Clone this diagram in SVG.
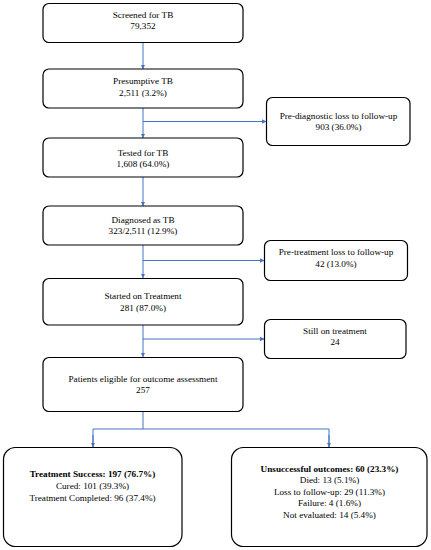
<svg xmlns="http://www.w3.org/2000/svg" width="431" height="550" viewBox="0 0 431 550">
<defs>
<style>
.box{fill:#fff;stroke:#000;stroke-width:1.2}
.t{font-family:"Liberation Serif","Times New Roman",serif;font-size:9.2px;fill:#000;text-anchor:middle}
.b{font-weight:bold}
.c{fill:none;stroke:#4472C4;stroke-width:1}
</style>
<marker id="ah" viewBox="0 0 10 10" refX="10" refY="5" markerWidth="4.5" markerHeight="4.5" markerUnits="userSpaceOnUse" orient="auto">
<path d="M0,0 L10,5 L0,10 z" fill="#4472C4"/>
</marker>
</defs>
<rect width="431" height="550" fill="#fff"/>
<g id="connectors">
<path class="c" d="M143,42 V69" marker-end="url(#ah)"/>
<path class="c" d="M143,108 V138" marker-end="url(#ah)"/>
<path class="c" d="M143,121.5 H266.5" marker-end="url(#ah)"/>
<path class="c" d="M143,177 V206" marker-end="url(#ah)"/>
<path class="c" d="M143,245 V278" marker-end="url(#ah)"/>
<path class="c" d="M143,260.5 H264.5" marker-end="url(#ah)"/>
<path class="c" d="M143,325 V357" marker-end="url(#ah)"/>
<path class="c" d="M143,339 H264.5" marker-end="url(#ah)"/>
<path class="c" d="M143,412 V429"/>
<path class="c" d="M93,447 V429 H329 V447" />
<path class="c" d="M93,435 V447" marker-end="url(#ah)"/>
<path class="c" d="M329,435 V447" marker-end="url(#ah)"/>
</g>
<g id="screened">
<rect class="box" x="43" y="3.5" width="200" height="39" rx="6"/>
<text class="t" x="143" y="18.3">Screened for TB</text>
<text class="t" x="143" y="29.3">79,352</text>
</g>
<g id="presumptive">
<rect class="box" x="43" y="69" width="200" height="39" rx="6"/>
<text class="t" x="143" y="84">Presumptive TB</text>
<text class="t" x="143" y="95.7">2,511 (3.2%)</text>
</g>
<g id="prediagnostic">
<rect class="box" x="266.5" y="97.5" width="143.5" height="48" rx="6"/>
<text class="t" x="338.5" y="119">Pre-diagnostic loss to follow-up</text>
<text class="t" x="338.5" y="130">903 (36.0%)</text>
</g>
<g id="tested">
<rect class="box" x="43" y="138" width="200" height="39" rx="6"/>
<text class="t" x="143" y="155.7">Tested for TB</text>
<text class="t" x="143" y="166.7">1,608 (64.0%)</text>
</g>
<g id="diagnosed">
<rect class="box" x="43" y="206" width="200" height="39" rx="6"/>
<text class="t" x="143" y="222.7">Diagnosed as TB</text>
<text class="t" x="143" y="234">323/2,511 (12.9%)</text>
</g>
<g id="pretreatment">
<rect class="box" x="264.5" y="240.5" width="143" height="40" rx="6"/>
<text class="t" x="336" y="255.3">Pre-treatment loss to follow-up</text>
<text class="t" x="336" y="266.7">42 (13.0%)</text>
</g>
<g id="started">
<rect class="box" x="43" y="278.5" width="200" height="46.5" rx="6"/>
<text class="t" x="143" y="299.3">Started on Treatment</text>
<text class="t" x="143" y="310.7">281 (87.0%)</text>
</g>
<g id="still">
<rect class="box" x="264.5" y="319.5" width="141.5" height="39" rx="6"/>
<text class="t" x="335" y="334">Still on treatment</text>
<text class="t" x="335" y="345.3">24</text>
</g>
<g id="eligible">
<rect class="box" x="43" y="357.5" width="200" height="54" rx="6"/>
<text class="t" x="143" y="382">Patients eligible for outcome assessment</text>
<text class="t" x="143" y="393.3">257</text>
</g>
<g id="success">
<rect class="box" x="3.5" y="447.5" width="178.5" height="99" rx="12"/>
<text class="t b" x="92.5" y="477.3">Treatment Success: 197 (76.7%)</text>
<text class="t" x="92.5" y="489">Cured: 101 (39.3%)</text>
<text class="t" x="92.5" y="500.7">Treatment Completed: 96 (37.4%)</text>
</g>
<g id="unsuccessful">
<rect class="box" x="231.5" y="447.5" width="195.5" height="99" rx="12"/>
<text class="t b" x="329.5" y="471.7">Unsuccessful outcomes: 60 (23.3%)</text>
<text class="t" x="329.5" y="483.3">Died: 13 (5.1%)</text>
<text class="t" x="329.5" y="494.7">Loss to follow-up: 29 (11.3%)</text>
<text class="t" x="329.5" y="506">Failure: 4 (1.6%)</text>
<text class="t" x="329.5" y="517.7">Not evaluated: 14 (5.4%)</text>
</g>
</svg>
